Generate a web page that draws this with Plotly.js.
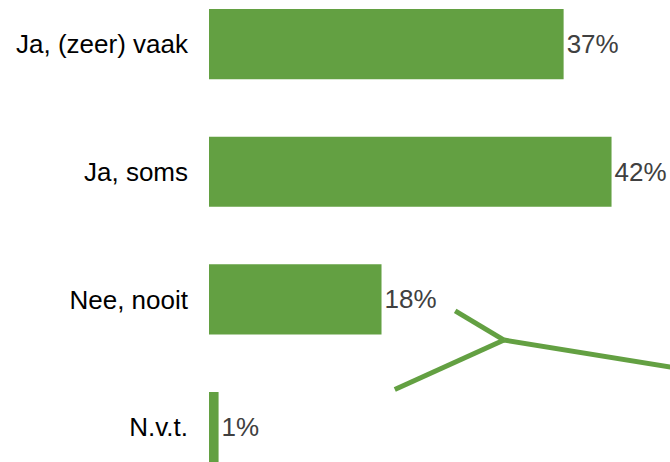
<!DOCTYPE html>
<html>
<head>
<meta charset="utf-8">
<script src="https://cdn.plot.ly/plotly-3.0.1.min.js"></script>
<style>
  html, body { margin: 0; padding: 0; background: #fff; }
  #chart { width: 670px; height: 462px; }
</style>
</head>
<body>
<div id="chart"></div>
<script>
// answers top to bottom
var answers = ["Ja, (zeer) vaak", "Ja, soms", "Nee, nooit", "N.v.t."];
var percents = [37, 42, 18, 1];

var green = "#63a042";

var trace = {
    type: "bar",
    orientation: "h",
    x: percents,
    y: answers,
    width: 0.55,
    marker: {color: green},
    texttemplate: "%{x}%",
    textposition: "outside",
    cliponaxis: false,
    textfont: {family: "Liberation Sans, Arial, sans-serif", size: 26, color: "#404040"},
    hoverinfo: "none"
};

// decorative branch line, lower right (paper coordinates)
var branch = [
    {type: "line", xref: "paper", yref: "paper", x0: 0.534, y0: 0.327, x1: 0.640, y1: 0.264},
    {type: "line", xref: "paper", yref: "paper", x0: 0.403, y0: 0.157, x1: 0.640, y1: 0.264},
    {type: "line", xref: "paper", yref: "paper", x0: 0.640, y0: 0.264, x1: 1.01, y1: 0.204}
].map(function (s) { s.line = {color: green, width: 5}; return s; });

var layout = {
    width: 670,
    height: 462,
    margin: {l: 209, r: 0, t: 0, b: 0},
    paper_bgcolor: "#fff",
    plot_bgcolor: "#fff",
    showlegend: false,
    font: {family: "Liberation Sans, Arial, sans-serif"},
    xaxis: {range: [0, 48.1], visible: false, fixedrange: true},
    yaxis: {
        type: "category",
        range: [3.273, -0.345],
        showgrid: false,
        zeroline: false,
        showline: false,
        ticks: "",
        ticklabelstandoff: 20,
        tickfont: {size: 26, color: "#000"},
        fixedrange: true
    },
    shapes: branch
};

Plotly.newPlot("chart", [trace], layout, {displayModeBar: false, staticPlot: true});
</script>
</body>
</html>
